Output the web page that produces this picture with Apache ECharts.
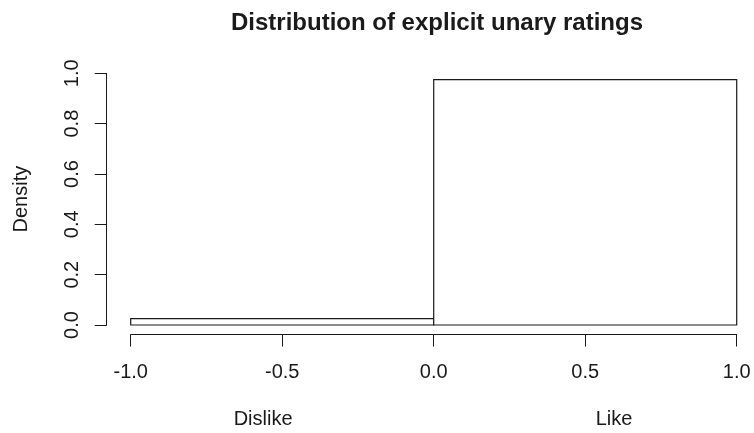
<!DOCTYPE html>
<html>
<head>
<meta charset="utf-8">
<script src="https://cdn.jsdelivr.net/npm/echarts@6/dist/echarts.min.js"></script>
<style>
  html, body { margin: 0; padding: 0; background: #fff; }
  #chart { width: 754px; height: 433px; }
</style>
</head>
<body>
<div id="chart"></div>
<script>
// Histogram of explicit unary ratings (density scale)
const binStart = [-1.0, 0.0];
const binEnd = [0.0, 1.0];
const density = [0.025, 0.975];

const xTicks = [-1.0, -0.5, 0.0, 0.5, 1.0];
const yTicks = [0.0, 0.2, 0.4, 0.6, 0.8, 1.0];

const ratingNames = ['Dislike', 'Like'];
const ratingNameX = [-0.563, 0.595];

const FONT = "'Liberation Sans', Arial, Helvetica, sans-serif";
const INK = '#1a1a1a';

const chart = echarts.init(document.getElementById('chart'), null, { renderer: 'canvas' });

const binData = binStart.map((s, i) => [s, binEnd[i], density[i]]);

chart.setOption({
  animation: false,
  backgroundColor: '#ffffff',
  title: {
    text: 'Distribution of explicit unary ratings',
    left: 432,
    top: 6,
    textAlign: 'center',
    textStyle: { fontFamily: FONT, fontSize: 24, fontWeight: 'bold', color: INK }
  },
  grid: { left: 130.7, top: 73.3, width: 606, height: 251.7 },
  xAxis: [
    {
      type: 'value',
      min: xTicks[0],
      max: xTicks[xTicks.length - 1],
      interval: 0.5,
      position: 'bottom',
      offset: 9.5,
      splitLine: { show: false },
      axisLine: { show: true, onZero: false, lineStyle: { color: INK, width: 1 } },
      axisTick: { show: true, inside: false, length: 12, lineStyle: { color: INK, width: 1 } },
      axisLabel: {
        show: true,
        margin: 28,
        fontFamily: FONT,
        fontSize: 20,
        color: INK,
        formatter: v => v.toFixed(1)
      }
    },
    {
      type: 'value',
      min: xTicks[0],
      max: xTicks[xTicks.length - 1],
      position: 'bottom',
      offset: 9.5,
      splitLine: { show: false },
      axisLine: { show: false },
      axisTick: { show: false },
      axisLabel: {
        show: true,
        customValues: ratingNameX,
        margin: 75,
        fontFamily: FONT,
        fontSize: 20,
        color: INK,
        formatter: v => {
          const i = ratingNameX.findIndex(p => Math.abs(p - v) < 1e-6);
          return i >= 0 ? ratingNames[i] : '';
        }
      }
    }
  ],
  yAxis: {
    type: 'value',
    min: yTicks[0],
    max: yTicks[yTicks.length - 1],
    interval: 0.2,
    position: 'left',
    offset: 24,
    splitLine: { show: false },
    axisLine: { show: true, onZero: false, lineStyle: { color: INK, width: 1 } },
    axisTick: { show: true, inside: false, length: 12, lineStyle: { color: INK, width: 1 } },
    axisLabel: {
      show: true,
      rotate: 90,
      margin: 24,
      fontFamily: FONT,
      fontSize: 20,
      color: INK,
      formatter: v => v.toFixed(1)
    },
    name: 'Density',
    nameLocation: 'middle',
    nameRotate: 90,
    nameGap: 75,
    nameTextStyle: { fontFamily: FONT, fontSize: 20, color: INK }
  },
  series: [
    {
      type: 'custom',
      xAxisIndex: 0,
      yAxisIndex: 0,
      data: binData,
      clip: false,
      encode: { x: [0, 1], y: 2 },
      renderItem: (params, api) => {
        const topLeft = api.coord([api.value(0), api.value(2)]);
        const bottomRight = api.coord([api.value(1), 0]);
        return {
          type: 'rect',
          shape: {
            x: topLeft[0],
            y: topLeft[1],
            width: bottomRight[0] - topLeft[0],
            height: bottomRight[1] - topLeft[1]
          },
          style: { fill: '#ffffff', stroke: INK, lineWidth: 1.2 }
        };
      }
    }
  ]
});
</script>
</body>
</html>
